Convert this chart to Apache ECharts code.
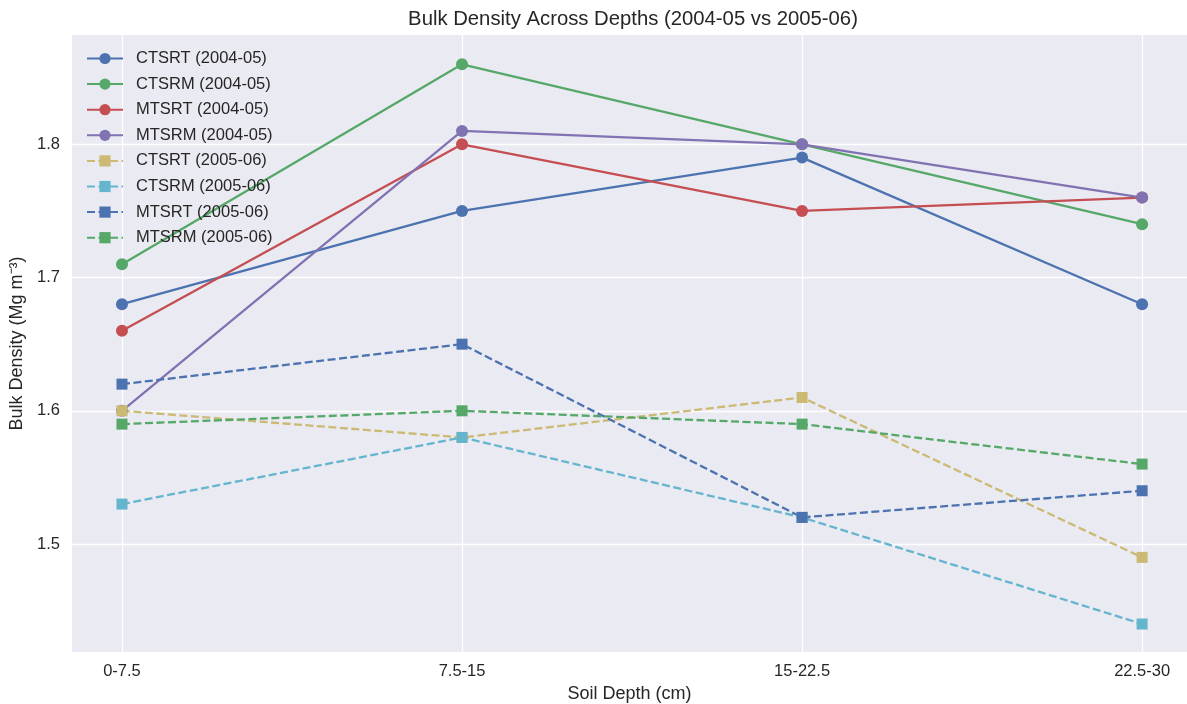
<!DOCTYPE html>
<html>
<head>
<meta charset="utf-8">
<script src="https://cdn.jsdelivr.net/npm/echarts@6/dist/echarts.min.js"></script>
<style>
  html, body { margin: 0; padding: 0; background: #ffffff; }
  #chart { width: 1187px; height: 704px; }
</style>
</head>
<body>
<div id="chart"></div>
<script>
// Soil depth classes (cm)
const depths = ['0-7.5', '7.5-15', '15-22.5', '22.5-30'];

// Bulk density (Mg m^-3), 2004-05 season
const ctsrt0405 = [1.68, 1.75, 1.79, 1.68];
const ctsrm0405 = [1.71, 1.86, 1.80, 1.74];
const mtsrt0405 = [1.66, 1.80, 1.75, 1.76];
const mtsrm0405 = [1.60, 1.81, 1.80, 1.76];

// Bulk density (Mg m^-3), 2005-06 season
const ctsrt0506 = [1.60, 1.58, 1.61, 1.49];
const ctsrm0506 = [1.53, 1.58, 1.52, 1.44];
const mtsrt0506 = [1.62, 1.65, 1.52, 1.54];
const mtsrm0506 = [1.59, 1.60, 1.59, 1.56];

const yTicks = [1.5, 1.6, 1.7, 1.8];

const palette = ['#4C72B0', '#55A868', '#C44E52', '#8172B2', '#CCB974', '#64B5CD'];
const textColor = '#262626';
const fontFamily = '"Liberation Sans", Arial, sans-serif';

function makeSeries(name, values, color, season) {
  const dashed = season === '2005-06';
  return {
    name: name + ' (' + season + ')',
    type: 'line',
    data: values.map((v, i) => [i, v]),
    symbol: dashed ? 'rect' : 'circle',
    symbolSize: dashed ? 11 : 12,
    showSymbol: true,
    animation: false,
    lineStyle: { color: color, width: 2.3, type: dashed ? [8, 3.5] : 'solid' },
    itemStyle: { color: color },
    emphasis: { disabled: true }
  };
}

const series = [
  makeSeries('CTSRT', ctsrt0405, palette[0], '2004-05'),
  makeSeries('CTSRM', ctsrm0405, palette[1], '2004-05'),
  makeSeries('MTSRT', mtsrt0405, palette[2], '2004-05'),
  makeSeries('MTSRM', mtsrm0405, palette[3], '2004-05'),
  makeSeries('CTSRT', ctsrt0506, palette[4], '2005-06'),
  makeSeries('CTSRM', ctsrm0506, palette[5], '2005-06'),
  makeSeries('MTSRT', mtsrt0506, palette[0], '2005-06'),
  makeSeries('MTSRM', mtsrm0506, palette[1], '2005-06')
];

const chart = echarts.init(document.getElementById('chart'), null, { renderer: 'canvas' });

chart.setOption({
  backgroundColor: '#ffffff',
  animation: false,
  title: {
    text: 'Bulk Density Across Depths (2004-05 vs 2005-06)',
    left: 633,
    textAlign: 'center',
    top: 9,
    padding: 0,
    textStyle: { fontFamily: fontFamily, fontSize: 20.3, fontWeight: 'normal', color: textColor }
  },
  grid: {
    left: 72, right: 0, top: 35, bottom: 52,
    outerBoundsMode: 'none',
    containLabel: false,
    show: true, backgroundColor: '#EAEAF2', borderWidth: 0
  },
  legend: {
    orient: 'vertical',
    left: 86,
    top: 50,
    padding: 0,
    itemWidth: 36,
    itemHeight: 14,
    itemGap: 8.6,
    textStyle: { fontFamily: fontFamily, fontSize: 16.5, lineHeight: 14, color: textColor, padding: [0, 0, 0, 8] },
    data: series.map(s => s.name)
  },
  xAxis: {
    type: 'value',
    min: -0.147,
    max: 3.132,
    name: 'Soil Depth (cm)',
    nameLocation: 'middle',
    nameGap: 32,
    nameTextStyle: { fontFamily: fontFamily, fontSize: 18, color: textColor },
    axisLine: { show: false },
    axisTick: { show: true, length: 0, customValues: [0, 1, 2, 3] },
    axisLabel: {
      customValues: [0, 1, 2, 3],
      formatter: v => depths[Math.round(v)],
      fontFamily: fontFamily, fontSize: 16.5, color: textColor, margin: 11
    },
    splitLine: { show: true, lineStyle: { color: '#ffffff', width: 1.3 } }
  },
  yAxis: {
    type: 'value',
    min: 1.419,
    max: 1.882,
    name: 'Bulk Density (Mg m\u207B\u00B3)',
    nameLocation: 'middle',
    nameGap: 43,
    nameTextStyle: { fontFamily: fontFamily, fontSize: 18, color: textColor },
    axisLine: { show: false },
    axisTick: { show: true, length: 0, customValues: yTicks },
    axisLabel: {
      customValues: yTicks,
      formatter: v => v.toFixed(1),
      fontFamily: fontFamily, fontSize: 16.5, color: textColor, margin: 12
    },
    splitLine: { show: true, lineStyle: { color: '#ffffff', width: 1.3 } }
  },
  series: series
});
</script>
</body>
</html>
